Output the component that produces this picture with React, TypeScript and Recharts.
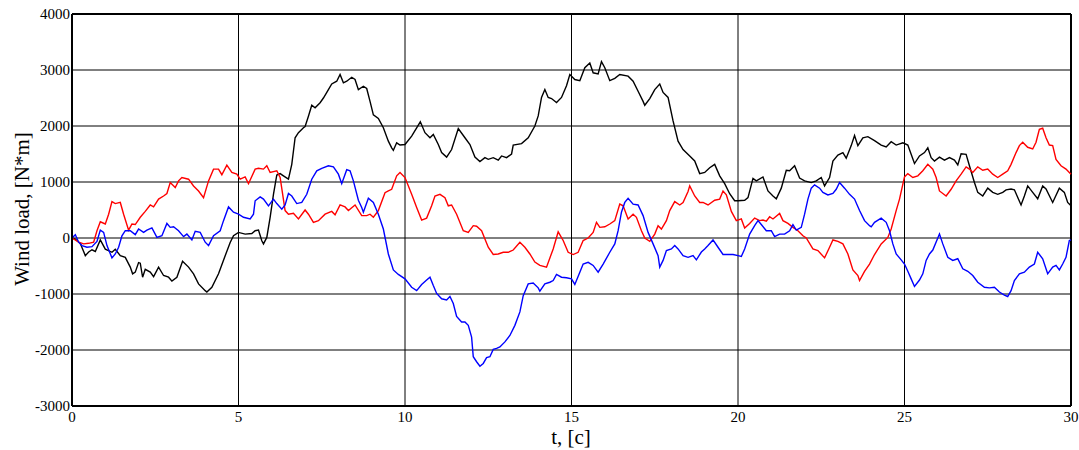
import React from 'react';
import { LineChart, Line, XAxis, YAxis, CartesianGrid, ReferenceLine } from 'recharts';

const xTicks = [0, 5, 10, 15, 20, 25, 30];
const yTicks = [-3000, -2000, -1000, 0, 1000, 2000, 3000, 4000];

const blackSeries: [number, number][] = [
  [0,0],[0.1,-20],[0.25,-100],[0.4,-315],[0.5,-250],[0.6,-210],[0.7,-240],[0.85,-35],[1.0,-200],[1.2,-255],[1.3,-200],[1.45,-315],[1.6,-345],[1.75,-520],[1.82,-640],[1.9,-610],[2.0,-440],[2.05,-450],[2.12,-700],[2.2,-560],[2.35,-610],[2.45,-690],[2.6,-520],[2.75,-670],[2.9,-700],[3.0,-770],[3.15,-700],[3.32,-415],[3.5,-520],[3.65,-640],[3.8,-820],[4.0,-940],[4.05,-965],[4.2,-880],[4.4,-640],[4.6,-315],[4.75,-80],[4.85,40],[5.0,100],[5.2,70],[5.4,80],[5.5,130],[5.6,140],[5.7,-50],[5.75,-105],[5.85,10],[5.95,370],[6.05,780],[6.15,1125],[6.25,1150],[6.35,1110],[6.5,1050],[6.6,1315],[6.7,1790],[6.8,1880],[6.95,1970],[7.0,1990],[7.1,2175],[7.2,2370],[7.3,2325],[7.45,2415],[7.55,2500],[7.7,2650],[7.8,2750],[7.95,2800],[8.05,2920],[8.15,2770],[8.25,2800],[8.4,2870],[8.5,2830],[8.6,2650],[8.75,2710],[8.85,2670],[8.95,2440],[9.05,2200],[9.2,2135],[9.35,1970],[9.5,1730],[9.6,1610],[9.65,1565],[9.75,1700],[9.85,1660],[10.0,1670],[10.2,1820],[10.46,2075],[10.6,1880],[10.75,1790],[10.85,1850],[11.0,1670],[11.1,1525],[11.25,1445],[11.4,1580],[11.6,1955],[11.8,1790],[11.95,1670],[12.1,1445],[12.25,1365],[12.4,1435],[12.5,1405],[12.65,1435],[12.8,1390],[12.9,1465],[13.05,1435],[13.2,1500],[13.25,1660],[13.5,1685],[13.7,1790],[13.9,2000],[14.0,2180],[14.1,2510],[14.2,2650],[14.3,2510],[14.4,2490],[14.55,2420],[14.7,2510],[14.85,2720],[14.95,2920],[15.1,2830],[15.25,2810],[15.4,3040],[15.55,3125],[15.65,2950],[15.8,2930],[15.9,3150],[16.0,3040],[16.15,2810],[16.3,2850],[16.45,2920],[16.7,2890],[16.85,2800],[17.0,2620],[17.15,2440],[17.2,2370],[17.35,2490],[17.5,2650],[17.65,2750],[17.75,2600],[17.9,2510],[18.05,2090],[18.2,1730],[18.35,1580],[18.55,1465],[18.7,1375],[18.85,1150],[19.0,1170],[19.15,1255],[19.3,1315],[19.45,1110],[19.6,970],[19.75,790],[19.9,665],[20.0,665],[20.2,675],[20.3,720],[20.45,1065],[20.55,1020],[20.75,1090],[20.9,840],[21.05,750],[21.15,700],[21.3,890],[21.45,1210],[21.55,1200],[21.7,1290],[21.85,1070],[22.0,1020],[22.2,990],[22.35,1020],[22.5,1080],[22.6,930],[22.75,1080],[22.85,1375],[23.0,1480],[23.15,1525],[23.25,1425],[23.4,1650],[23.5,1830],[23.6,1650],[23.75,1790],[23.9,1810],[24.1,1740],[24.3,1660],[24.45,1625],[24.6,1720],[24.75,1660],[24.95,1700],[25.1,1660],[25.2,1495],[25.3,1330],[25.45,1465],[25.6,1525],[25.7,1610],[25.8,1435],[25.9,1375],[26.05,1445],[26.2,1390],[26.35,1435],[26.5,1390],[26.6,1305],[26.7,1505],[26.85,1495],[26.95,1290],[27.1,990],[27.2,815],[27.35,750],[27.5,890],[27.65,815],[27.8,780],[27.95,815],[28.05,860],[28.2,875],[28.3,860],[28.5,590],[28.6,750],[28.7,930],[28.85,815],[29.0,700],[29.15,930],[29.25,875],[29.45,635],[29.65,890],[29.8,815],[29.9,635],[30.0,575]
];

const redSeries: [number, number][] = [
  [0,0],[0.2,-75],[0.35,-105],[0.5,-95],[0.65,-75],[0.75,130],[0.85,290],[1.0,250],[1.1,425],[1.2,650],[1.3,615],[1.45,635],[1.55,425],[1.7,140],[1.8,250],[1.9,240],[2.05,370],[2.2,475],[2.35,590],[2.45,555],[2.6,695],[2.75,750],[2.85,795],[2.95,990],[3.1,900],[3.2,1020],[3.3,1080],[3.5,1050],[3.65,930],[3.8,840],[3.95,720],[4.1,1020],[4.25,1230],[4.4,1230],[4.5,1130],[4.65,1300],[4.8,1170],[4.95,1140],[5.05,1050],[5.2,1090],[5.3,970],[5.5,1230],[5.6,1245],[5.75,1230],[5.85,1290],[5.95,1170],[6.15,1200],[6.25,1080],[6.4,490],[6.5,425],[6.65,440],[6.8,340],[7.0,500],[7.1,425],[7.25,280],[7.4,310],[7.6,425],[7.8,475],[7.9,415],[8.05,590],[8.2,555],[8.3,490],[8.5,590],[8.7,400],[8.85,400],[8.95,425],[9.05,370],[9.2,490],[9.4,810],[9.5,840],[9.6,870],[9.75,1110],[9.85,1170],[10.0,1080],[10.2,780],[10.35,545],[10.5,320],[10.65,355],[10.8,575],[10.9,750],[11.05,780],[11.2,720],[11.3,575],[11.4,590],[11.55,425],[11.75,130],[11.9,100],[12.05,220],[12.15,210],[12.3,130],[12.5,-165],[12.65,-295],[12.8,-285],[12.95,-255],[13.1,-255],[13.25,-215],[13.45,-75],[13.6,-165],[13.75,-285],[13.9,-430],[14.05,-490],[14.25,-520],[14.45,-195],[14.6,110],[14.75,-45],[14.9,-255],[15.05,-295],[15.2,-255],[15.35,-45],[15.5,0],[15.65,100],[15.75,280],[15.85,190],[16.0,200],[16.15,250],[16.3,310],[16.45,605],[16.55,575],[16.7,340],[16.85,425],[16.95,370],[17.1,130],[17.2,0],[17.35,-60],[17.5,70],[17.6,220],[17.7,160],[17.85,310],[17.95,490],[18.1,650],[18.25,590],[18.35,635],[18.5,830],[18.55,930],[18.7,750],[18.85,635],[18.95,635],[19.1,590],[19.3,675],[19.45,695],[19.55,840],[19.65,770],[19.8,475],[19.95,310],[20.1,340],[20.2,180],[20.35,260],[20.5,355],[20.65,310],[20.75,320],[20.85,300],[20.95,380],[21.05,340],[21.25,440],[21.35,310],[21.5,260],[21.65,190],[21.8,130],[21.95,40],[22.05,0],[22.25,-195],[22.4,-225],[22.6,-355],[22.75,-165],[22.85,-35],[23.0,-60],[23.15,-105],[23.3,-285],[23.45,-570],[23.6,-670],[23.65,-760],[23.8,-595],[23.95,-465],[24.1,-295],[24.3,-105],[24.5,10],[24.6,160],[24.75,490],[24.85,695],[25.0,1090],[25.1,1150],[25.25,1080],[25.4,1110],[25.55,1200],[25.7,1315],[25.85,1230],[25.95,1080],[26.05,840],[26.25,750],[26.4,870],[26.55,1020],[26.7,1140],[26.85,1270],[26.95,1230],[27.05,1170],[27.2,1270],[27.35,1210],[27.5,1230],[27.65,1140],[27.8,1080],[27.95,1140],[28.1,1200],[28.2,1315],[28.35,1525],[28.45,1650],[28.55,1710],[28.7,1620],[28.85,1590],[28.95,1710],[29.05,1940],[29.15,1960],[29.25,1790],[29.35,1660],[29.45,1650],[29.55,1405],[29.7,1290],[29.85,1230],[30.0,1140]
];

const blueSeries: [number, number][] = [
  [0,0],[0.1,60],[0.2,-75],[0.3,-135],[0.45,-165],[0.6,-155],[0.75,-60],[0.85,140],[0.95,100],[1.05,-135],[1.2,-355],[1.3,-285],[1.4,-165],[1.5,40],[1.6,130],[1.75,130],[1.9,60],[2.0,160],[2.15,100],[2.25,140],[2.4,180],[2.55,10],[2.7,40],[2.85,260],[2.95,190],[3.05,200],[3.2,130],[3.35,25],[3.45,70],[3.6,-35],[3.7,120],[3.85,100],[4.0,-75],[4.1,-135],[4.25,40],[4.45,130],[4.55,310],[4.7,555],[4.85,460],[5.0,425],[5.15,370],[5.35,340],[5.45,425],[5.5,665],[5.65,735],[5.75,695],[5.9,575],[6.05,695],[6.15,615],[6.3,515],[6.4,590],[6.5,795],[6.6,750],[6.75,615],[6.9,635],[7.05,780],[7.2,1050],[7.35,1200],[7.5,1245],[7.7,1290],[7.85,1270],[8.0,1140],[8.1,970],[8.25,1220],[8.35,1200],[8.45,1020],[8.6,675],[8.7,545],[8.75,460],[8.9,710],[9.05,635],[9.2,425],[9.35,160],[9.5,-285],[9.65,-570],[9.8,-650],[10.0,-730],[10.2,-880],[10.35,-940],[10.5,-830],[10.65,-750],[10.75,-700],[10.85,-850],[10.95,-990],[11.1,-1085],[11.25,-1105],[11.35,-1045],[11.45,-1170],[11.55,-1400],[11.7,-1500],[11.8,-1500],[11.9,-1560],[12.0,-1770],[12.05,-2120],[12.15,-2210],[12.25,-2290],[12.35,-2240],[12.45,-2135],[12.55,-2120],[12.65,-1990],[12.75,-1970],[12.85,-1945],[13.0,-1855],[13.15,-1740],[13.3,-1560],[13.45,-1320],[13.55,-1030],[13.7,-820],[13.85,-805],[14.0,-890],[14.05,-950],[14.2,-820],[14.35,-790],[14.45,-760],[14.55,-650],[14.7,-700],[14.85,-710],[15.0,-730],[15.1,-830],[15.25,-610],[15.35,-465],[15.5,-435],[15.65,-490],[15.8,-610],[15.95,-465],[16.15,-255],[16.3,-105],[16.4,130],[16.5,460],[16.6,635],[16.7,710],[16.85,605],[17.0,590],[17.15,400],[17.3,100],[17.45,-105],[17.6,-315],[17.65,-520],[17.75,-400],[17.85,-225],[18.0,-195],[18.1,-135],[18.2,-195],[18.35,-315],[18.5,-345],[18.65,-315],[18.75,-390],[18.9,-250],[19.0,-195],[19.1,-135],[19.25,-35],[19.4,-165],[19.55,-295],[19.7,-295],[19.85,-295],[20.0,-315],[20.1,-330],[20.2,-195],[20.35,70],[20.5,220],[20.6,310],[20.7,240],[20.85,130],[21.0,130],[21.1,25],[21.25,70],[21.4,70],[21.55,130],[21.65,240],[21.75,140],[21.9,190],[22.0,425],[22.1,695],[22.2,890],[22.3,950],[22.45,890],[22.55,815],[22.7,770],[22.85,795],[22.95,870],[23.05,990],[23.2,890],[23.35,780],[23.5,695],[23.65,490],[23.8,310],[23.95,220],[24.0,200],[24.1,280],[24.3,355],[24.45,280],[24.55,130],[24.65,-105],[24.75,-285],[24.9,-390],[25.0,-465],[25.1,-595],[25.2,-730],[25.3,-865],[25.45,-750],[25.55,-640],[25.65,-400],[25.75,-285],[25.85,-215],[26.05,70],[26.15,-105],[26.3,-345],[26.45,-400],[26.6,-370],[26.75,-550],[26.9,-595],[27.05,-670],[27.2,-790],[27.4,-880],[27.55,-890],[27.7,-880],[27.85,-965],[28.0,-1020],[28.1,-1045],[28.2,-940],[28.3,-760],[28.45,-640],[28.6,-610],[28.75,-520],[28.9,-465],[29.0,-255],[29.15,-370],[29.3,-640],[29.45,-520],[29.55,-490],[29.65,-570],[29.75,-465],[29.85,-345],[29.95,-45],[30.0,-35]
];

const toPoints = (arr: [number, number][]) => arr.map(([t, v]) => ({ t, v }));

const FONT = 'Liberation Serif, DejaVu Serif, serif';

export default function App() {
  return (
    <div style={{ width: 1079, height: 450, fontFamily: FONT }}>
      <style>{'html, body { margin: 0; padding: 0; overflow: hidden; }'}</style>
      <LineChart
        width={1079}
        height={450}
        margin={{ top: 14, right: 8, bottom: 0, left: 0 }}
        style={{ fontFamily: FONT }}
      >
        <CartesianGrid stroke="#000" strokeWidth={1} />
        <XAxis
          type="number"
          dataKey="t"
          domain={[0, 30]}
          ticks={xTicks}
          interval={0}
          height={44}
          tickLine={false}
          tickSize={5}
          tickMargin={0}
          axisLine={{ stroke: '#000', strokeWidth: 2 }}
          tick={{ fill: '#000', fontSize: 15, fontFamily: FONT, style: { fontFamily: FONT } }}
          label={{
            content: () => (
              <text x={571} y={437} textAnchor="middle" dominantBaseline="central" fontSize={21} fill="#000" style={{ fontFamily: FONT }}>
                t, [c]
              </text>
            ),
          }}
        />
        <YAxis
          type="number"
          domain={[-3000, 4000]}
          ticks={yTicks}
          interval={0}
          width={72}
          tickLine={false}
          tickSize={2}
          tickMargin={0}
          axisLine={{ stroke: '#000', strokeWidth: 2 }}
          tick={{ fill: '#000', fontSize: 15, fontFamily: FONT, style: { fontFamily: FONT } }}
          label={{
            content: () => (
              <text x={22} y={209} transform="rotate(-90 22 209)" textAnchor="middle" dominantBaseline="central" fontSize={21} fill="#000" style={{ fontFamily: FONT }}>
                Wind load, [N*m]
              </text>
            ),
          }}
        />
        <ReferenceLine y={4000} stroke="#000" strokeWidth={2} />
        <ReferenceLine x={30} stroke="#000" strokeWidth={2} />
        <Line data={toPoints(blackSeries)} dataKey="v" stroke="#000000" strokeWidth={1.4} dot={false} isAnimationActive={false} />
        <Line data={toPoints(redSeries)} dataKey="v" stroke="#ff0000" strokeWidth={1.4} dot={false} isAnimationActive={false} />
        <Line data={toPoints(blueSeries)} dataKey="v" stroke="#0000ff" strokeWidth={1.4} dot={false} isAnimationActive={false} />
      </LineChart>
    </div>
  );
}
